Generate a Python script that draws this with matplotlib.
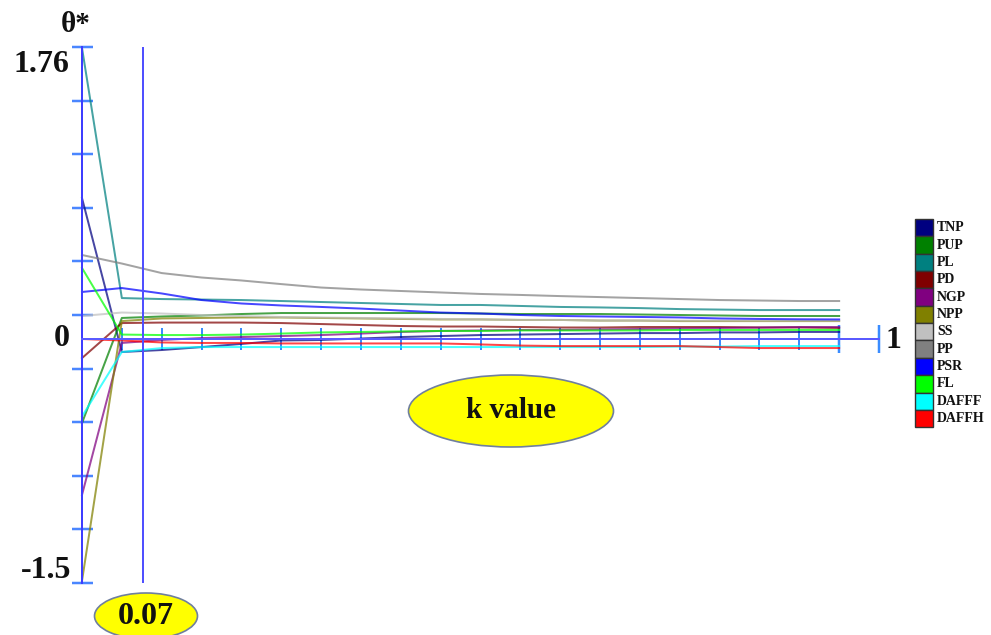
import matplotlib
matplotlib.use('Agg')
import matplotlib.pyplot as plt
from matplotlib.patches import Ellipse, Rectangle

# ridge parameter k
k = [0.00, 0.05, 0.10, 0.15, 0.20, 0.25, 0.30, 0.35, 0.40, 0.45,
     0.50, 0.55, 0.60, 0.65, 0.70, 0.75, 0.80, 0.85, 0.90, 0.95]

# standardised coefficients theta* for every k
TNP = [0.857, -0.079, -0.067, -0.049, -0.030, -0.009, -0.006, 0.003, 0.012, 0.018,
       0.024, 0.027, 0.030, 0.033, 0.036, 0.036, 0.040, 0.040, 0.043, 0.043]
PUP = [-0.511, 0.128, 0.137, 0.143, 0.152, 0.158, 0.158, 0.158, 0.158, 0.158,
       0.155, 0.152, 0.152, 0.152, 0.149, 0.146, 0.143, 0.140, 0.140, 0.140]
PL = [1.770, 0.249, 0.243, 0.240, 0.237, 0.231, 0.225, 0.219, 0.213, 0.207,
      0.207, 0.201, 0.195, 0.192, 0.188, 0.182, 0.179, 0.176, 0.176, 0.176]
PD = [-0.116, 0.097, 0.100, 0.100, 0.100, 0.097, 0.091, 0.085, 0.079, 0.076,
      0.076, 0.073, 0.070, 0.070, 0.073, 0.073, 0.073, 0.070, 0.070, 0.067]
NGP = [-0.948, -0.024, -0.006, 0.006, 0.012, 0.018, 0.024, 0.033, 0.043, 0.049,
       0.052, 0.055, 0.055, 0.058, 0.061, 0.064, 0.067, 0.070, 0.073, 0.073]
NPP = [-1.471, 0.109, 0.125, 0.128, 0.131, 0.131, 0.128, 0.125, 0.122, 0.119,
       0.119, 0.116, 0.116, 0.112, 0.112, 0.109, 0.109, 0.109, 0.109, 0.109]
SS = [0.140, 0.161, 0.155, 0.146, 0.140, 0.134, 0.131, 0.128, 0.125, 0.122,
      0.119, 0.116, 0.116, 0.112, 0.112, 0.112, 0.112, 0.112, 0.112, 0.112]
PP = [0.511, 0.459, 0.401, 0.374, 0.356, 0.334, 0.313, 0.301, 0.292, 0.283,
      0.274, 0.268, 0.261, 0.255, 0.249, 0.243, 0.237, 0.234, 0.231, 0.231]
PSR = [0.286, 0.310, 0.277, 0.237, 0.216, 0.204, 0.195, 0.185, 0.173, 0.161,
       0.155, 0.146, 0.140, 0.137, 0.134, 0.131, 0.125, 0.122, 0.120, 0.119]
FL = [0.432, 0.027, 0.024, 0.024, 0.027, 0.033, 0.040, 0.043, 0.046, 0.049,
      0.049, 0.052, 0.052, 0.052, 0.052, 0.055, 0.055, 0.055, 0.055, 0.055]
DAFFF = [-0.471, -0.079, -0.055, -0.049, -0.049, -0.049, -0.049, -0.049, -0.049, -0.049,
         -0.049, -0.049, -0.049, -0.049, -0.049, -0.046, -0.046, -0.043, -0.043, -0.043]
DAFFH = [0.000, -0.009, -0.021, -0.024, -0.024, -0.027, -0.027, -0.027, -0.027, -0.027,
         -0.033, -0.040, -0.043, -0.043, -0.043, -0.043, -0.049, -0.055, -0.055, -0.055]

names = ['TNP', 'PUP', 'PL', 'PD', 'NGP', 'NPP', 'SS', 'PP', 'PSR', 'FL', 'DAFFF', 'DAFFH']
series = [TNP, PUP, PL, PD, NGP, NPP, SS, PP, PSR, FL, DAFFF, DAFFH]
colors = ['#000080', '#008000', '#008080', '#800000', '#800080', '#808000',
          '#c0c0c0', '#808080', '#0000ff', '#00ff00', '#00ffff', '#ff0000']

k_opt_label = '0.07'
y_top_label, y_bot_label = '1.76', '-1.5'

W, H = 991, 635
SERIF = 'Liberation Serif'
PT = 0.72  # points per pixel at 100 dpi


def fx(px):
    return px / W


def fy(py):
    return 1 - py / H


fig = plt.figure(figsize=(W / 100, H / 100), dpi=100)
ax = fig.add_axes([fx(82), 52 / H, 797 / W, 536 / H])
ax.set_xlim(0, 1)
ax.set_ylim(-1.484, 1.776)

for name, vals, c in zip(names, series, colors):
    ax.plot(k, vals, color=c, lw=2 * PT, alpha=0.72, label=name, clip_on=False)

# optimal k marker
ax.axvline(0.076, color='#5050ff', lw=2 * PT)

# axes drawn through the origin
for side in ['top', 'right']:
    ax.spines[side].set_visible(False)
ax.spines['left'].set_position(('data', 0))
ax.spines['bottom'].set_position(('data', 0))
ax.spines['left'].set_color('#3d3dff')
ax.spines['bottom'].set_color('#5a5aff')
ax.spines['left'].set_linewidth(2 * PT)
ax.spines['bottom'].set_linewidth(2 * PT)

ax.set_xticks([0.95, 1.0])
ax.set_xticks([0.05 * i for i in range(1, 19)], minor=True)
y0, y1 = ax.get_ylim()
ax.set_yticks([y0 + i * (y1 - y0) / 10 for i in range(11)])
ax.tick_params(axis='x', which='major', direction='inout', length=28 * PT, width=2.5 * PT,
               color='#3a8cff', labelbottom=False)
ax.tick_params(axis='x', which='minor', direction='inout', length=22 * PT, width=2 * PT,
               color='#3a8cff')
ax.tick_params(axis='y', direction='inout', length=21 * PT, width=2.5 * PT,
               color='#4a86ff', labelleft=False)
ax.patch.set_visible(False)

# axis texts
txt = dict(fontfamily=SERIF, fontweight='bold', color='#111111')
fig.text(fx(76), fy(24), 'θ*', fontsize=21, ha='center', va='center', **txt)
fig.text(fx(69), fy(64), y_top_label, fontsize=23, ha='right', va='center', **txt)
fig.text(fx(70), fy(339), '0', fontsize=23, ha='right', va='center', **txt)
fig.text(fx(71), fy(571), y_bot_label, fontsize=23, ha='right', va='center', **txt)
fig.text(fx(886), fy(340), '1', fontsize=23, ha='left', va='center', **txt)

# yellow bubbles
for cx, cy, w, h, s, fs in [(511, 411, 205, 72, 'k value', 21),
                            (146, 616, 103, 46, k_opt_label, 23)]:
    fig.patches.append(Ellipse((fx(cx), fy(cy)), w / W, h / H, transform=fig.transFigure,
                               facecolor='#ffff00', edgecolor='#6f7f9f', lw=1.2))
    fig.text(fx(cx), fy(cy), s, fontsize=fs, ha='center', va='center', **txt)

# colour key
box_h = 17.35
for i, (name, c) in enumerate(zip(names, colors)):
    top = 219 + i * box_h
    fig.patches.append(Rectangle((fx(915), fy(top + box_h)), 18 / W, box_h / H,
                                 transform=fig.transFigure, facecolor=c,
                                 edgecolor='#333333', lw=1))
    fig.text(fx(937), fy(top + box_h / 2), name, fontsize=10, ha='left', va='center', **txt)

fig.savefig('out.png', dpi=100)
